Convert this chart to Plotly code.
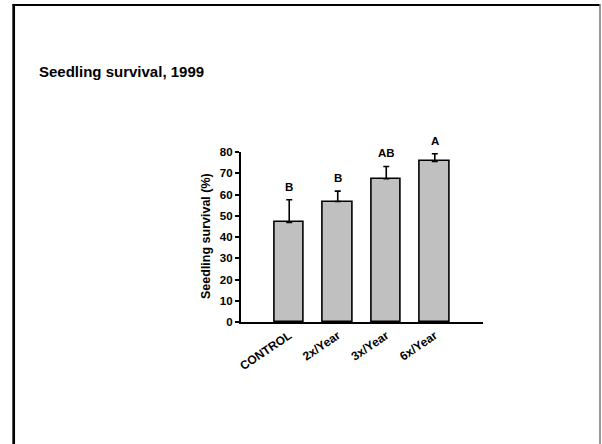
import plotly.graph_objects as go

# Seedling survival by treatment frequency, 1999
categories = ["CONTROL", "2x/Year", "3x/Year", "6x/Year"]
survival = [46.9, 56.7, 67.4, 75.6]
survival_err = [10.6, 4.9, 5.8, 3.6]
group_letters = ["B", "B", "AB", "A"]
y_ticks = [0, 10, 20, 30, 40, 50, 60, 70, 80]

W, H = 602, 444
FONT = "Arial, 'Liberation Sans', sans-serif"


def px_x(p):
    return p / W


def px_y(p):
    return 1 - p / H


x_pos = list(range(len(categories)))

fig = go.Figure()
fig.add_trace(go.Bar(
    x=x_pos,
    y=survival,
    width=0.61,
    marker=dict(color="#c0c0c0", line=dict(color="black", width=1.6)),
    error_y=dict(type="data", array=survival_err, arrayminus=[0] * len(survival),
                 symmetric=False, color="black", thickness=1.6, width=3),
    showlegend=False,
))

annotations = []
for xi, v, e, lab in zip(x_pos, survival, survival_err, group_letters):
    annotations.append(dict(
        x=xi, y=v + e, xref="x", yref="y", text=f"<b>{lab}</b>",
        showarrow=False, yanchor="middle", yshift=13,
        font=dict(family=FONT, size=11.5, color="black"),
    ))

annotations.append(dict(
    x=px_x(37), y=px_y(71), xref="paper", yref="paper",
    text="<b>Seedling survival, 1999</b>", showarrow=False,
    xanchor="left", yanchor="middle",
    font=dict(family=FONT, size=15, color="black"),
))
annotations.append(dict(
    x=px_x(206), y=px_y(236), xref="paper", yref="paper",
    text="<b>Seedling survival (%)</b>", showarrow=False, textangle=-90,
    xanchor="center", yanchor="middle",
    font=dict(family=FONT, size=12.5, color="black"),
))

# slide frame
shapes = [
    dict(type="line", xref="paper", yref="paper", x0=px_x(13.7), x1=px_x(13.7),
         y0=px_y(4), y1=px_y(446), line=dict(color="black", width=2.7)),
    dict(type="line", xref="paper", yref="paper", x0=px_x(12.5), x1=px_x(600),
         y0=px_y(5), y1=px_y(5), line=dict(color="black", width=2.2)),
    dict(type="line", xref="paper", yref="paper", x0=px_x(600), x1=px_x(600),
         y0=px_y(4), y1=px_y(446), line=dict(color="#777777", width=1.5)),
]

fig.update_layout(
    width=W, height=H,
    margin=dict(l=0, r=0, t=0, b=0),
    paper_bgcolor="white", plot_bgcolor="white",
    annotations=annotations, shapes=shapes,
    bargap=0,
    xaxis=dict(
        domain=[px_x(240.7), px_x(483.3)], range=[-1, 4.0],
        tickmode="array", tickvals=x_pos, ticktext=[f"<b>{c}</b>" for c in categories],
        tickangle=-34, ticks="", showline=True, linecolor="black", linewidth=2,
        showgrid=False, zeroline=False, automargin=False,
        tickfont=dict(family=FONT, size=12, color="black"),
    ),
    yaxis=dict(
        domain=[px_y(322), px_y(152)], range=[0, 80],
        tickmode="array", tickvals=y_ticks, ticktext=[f"<b>{t}</b>" for t in y_ticks],
        ticks="outside", ticklen=4, tickwidth=1.5, tickcolor="black",
        showline=True, linecolor="black", linewidth=1.6,
        showgrid=False, zeroline=False, automargin=False,
        tickfont=dict(family=FONT, size=11.5, color="black"),
    ),
)

fig.write_html("out.html")
